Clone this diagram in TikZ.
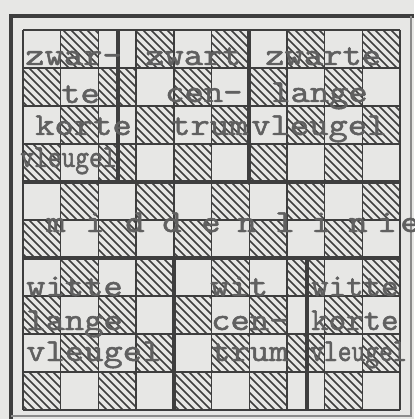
\documentclass[tikz,border=0pt]{standalone}
\usepackage{fontspec}
\newfontfamily\typewriter{lmmono10-regular}[Extension=.otf, FakeStretch=1.15, FakeBold=1.5]
\newfontfamily\typenarrow{lmmono10-regular}[Extension=.otf, FakeStretch=1.04, FakeBold=1.5]
\newfontfamily\typesqueezed{lmmono10-regular}[Extension=.otf, FakeStretch=0.82, FakeBold=1.5]
\definecolor{paper}{RGB}{231,231,229}
\definecolor{ink}{RGB}{62,62,62}
\definecolor{typeink}{RGB}{96,96,96}

\begin{document}
\begin{tikzpicture}[x=1pt, y=-1pt,
	grid line/.style={ink, line width=1.4pt},
	heavy line/.style={ink, line width=3.2pt},
	hatch/.style={ink, line width=1.6pt},
	typed/.style={font={\typewriter\fontsize{32}{32}\selectfont}, text=typeink, inner sep=0pt, anchor=base west},
	narrow/.style={typed, font={\typenarrow\fontsize{32}{32}\selectfont}},
	squeezed/.style={typed, font={\typesqueezed\fontsize{32}{32}\selectfont}}]
	\useasboundingbox[fill=paper] (0,0) rectangle (414,419);
	
	% frame
	\draw[ink, line width=4.5pt] (11,419) -- (11,16) -- (414,16);
	\draw[ink!60, line width=1.4pt] (11,416) -- (411,416) -- (411,16);
	
	% hatched squares
	\begin{scope}
		\clip \foreach \r in {0,...,9} {\foreach \k [evaluate=\k as \c using {int(2*\k+mod(\r+1,2))}] in {0,...,4} {(23+37.7*\c,30+38*\r) rectangle ++(37.7,38)}};
		\foreach \d in {-384,-376,...,384} \draw[hatch] (23+\d,30) -- ++(380,380);
	\end{scope}
	
	\foreach \i in {0,...,10} {
		\draw[grid line] (23+37.7*\i,30) -- (23+37.7*\i,410);
		\draw[grid line] (23,30+38*\i) -- (400,30+38*\i);
	}
	\draw[heavy line] (23,182) -- (400,182);
	\draw[heavy line] (23,258) -- (400,258);
	\draw[heavy line] (118,30) -- (118,182);
	\draw[heavy line] (249,30) -- (249,182);
	\draw[heavy line] (174,258) -- (174,410);
	\draw[heavy line] (307,258) -- (307,410);
	
	% zwarte vleugels
	\node[typed] (zk1) at (25,65) {zwar-};
	\node[typed] (zk2) at (61,103) {te};
	\node[typed] (zk3) at (35,135) {korte};
	\node[squeezed] (zk4) at (20,167) {vleugel};
	\node[typed] (zc1) at (145,65) {zwart};
	\node[typed] (zc2) at (165,102) {cen-};
	\node[typed] (zc3) at (171,135) {trum};
	\node[typed] (zl1) at (265,65) {zwarte};
	\node[typed] (zl2) at (271,102) {lange};
	\node[typed] (zl3) at (251,135) {vleugel};
	
	% middenlinie
	\foreach \letter/\x [count=\n] in {m/56, i/95, d/135, d/172, e/211, n/247, l/285, i/321, n/358, i/387, e/410}
		\node[typed, anchor=base] (ml\n) at (\x,232) {\letter};
	
	% witte vleugels
	\node[typed] (wl1) at (26,296) {witte};
	\node[typed] (wl2) at (26,330) {lange};
	\node[typed] (wl3) at (26,361) {vleugel};
	\node[typed] (wc1) at (210,296) {wit};
	\node[typed] (wc2) at (211,330) {cen-};
	\node[typed] (wc3) at (211,361) {trum};
	\node[narrow] (wk1) at (311,296) {witte};
	\node[narrow] (wk2) at (311,330) {korte};
	\node[squeezed] (wk3) at (310,361) {vleugel};
\end{tikzpicture}
\end{document}
